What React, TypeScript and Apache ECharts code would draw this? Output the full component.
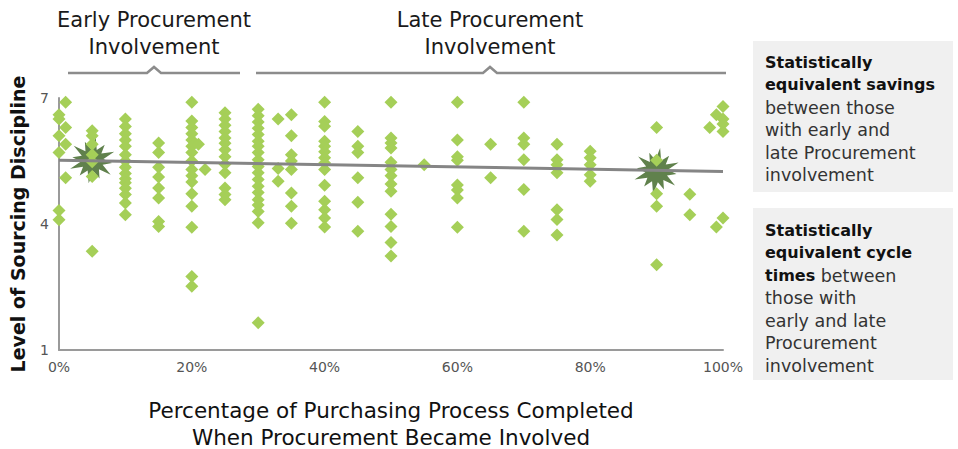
import React, { useEffect, useRef } from "react";
import * as echarts from "echarts";

// Percentage of purchasing process completed (x) for each column of responses
const pctColumns: number[] = [0, 1, 5, 10, 15, 20, 21, 22, 25, 30, 33, 35, 40, 45, 50, 55, 60, 65, 70, 75, 80, 90, 95, 98, 99, 100];

// Level of sourcing discipline values for each column above
const levelColumns: number[][] = [
  [6.6, 6.5, 6.1, 5.7, 4.32, 4.1],
  [6.9, 6.3, 5.9, 5.1],
  [6.22, 6.1, 5.9, 5.65, 5.48, 5.13, 3.35],
  [6.5, 6.32, 6.15, 6.0, 5.85, 5.65, 5.5, 5.35, 5.2, 5.08, 4.98, 4.85, 4.7, 4.5, 4.22],
  [5.93, 5.7, 5.35, 5.12, 4.86, 4.62, 4.06, 3.94],
  [6.9, 6.45, 6.3, 6.15, 6.0, 5.85, 5.7, 5.5, 5.3, 5.15, 5.0, 4.72, 4.42, 3.92, 2.75, 2.52],
  [5.9],
  [5.3],
  [6.65, 6.5, 6.35, 6.2, 6.05, 5.92, 5.77, 5.6, 5.42, 5.22, 4.86, 4.7, 4.58],
  [6.73, 6.58, 6.43, 6.28, 6.13, 5.97, 5.85, 5.7, 5.53, 5.37, 5.22, 5.06, 4.9, 4.75, 4.58, 4.45, 4.3, 4.03, 1.65],
  [6.5, 5.32, 5.02],
  [6.6, 6.1, 5.65, 5.5, 5.3, 4.74, 4.42, 4.02],
  [6.9, 6.44, 6.33, 5.97, 5.85, 5.72, 5.58, 5.45, 5.3, 4.92, 4.54, 4.34, 4.14, 3.93],
  [6.2, 5.85, 5.7, 5.1, 4.52, 3.83],
  [6.9, 6.05, 5.93, 5.81, 5.47, 5.3, 5.15, 4.95, 4.78, 4.23, 3.94, 3.56, 3.24],
  [5.41],
  [6.9, 6.0, 5.6, 5.52, 4.93, 4.81, 4.62, 3.92],
  [5.9, 5.1],
  [6.9, 6.05, 5.9, 5.53, 4.82, 3.83],
  [5.9, 5.53, 5.41, 5.22, 4.34, 4.11, 3.74],
  [5.73, 5.58, 5.41, 5.17, 5.02],
  [6.3, 5.52, 4.72, 4.42, 3.03],
  [4.71, 4.22],
  [6.3],
  [6.6, 3.93],
  [6.8, 6.5, 6.38, 6.2, 4.14],
];

// Group averages (starbursts): early and late involvement
const avgX: number[] = [5, 90];
const avgLevel: number[] = [5.52, 5.26];

// Trend line end points
const trendX: number[] = [0, 100];
const trendLevel: number[] = [5.52, 5.25];

// Axis ticks
const yTicks: number[] = [1, 4, 7];
const xTickStep = 20;

const FONT = "'DejaVu Sans', 'Open Sans', sans-serif";

function starPath(points: number, outer: number, inner: number): string {
  const parts: string[] = [];
  for (let i = 0; i < points * 2; i++) {
    const r = i % 2 === 0 ? outer * (i % 4 === 0 ? 1 : 0.85) : inner;
    const a = (Math.PI * i) / points - Math.PI / 2 + 0.15;
    const x = 50 + r * Math.cos(a);
    const y = 50 + r * Math.sin(a);
    parts.push((i === 0 ? "M" : "L") + x.toFixed(2) + " " + y.toFixed(2));
  }
  return "path://" + parts.join(" ") + " Z";
}

export default function App() {
  const ref = useRef<HTMLDivElement>(null);

  useEffect(() => {
    if (!ref.current) return;
    const chart = echarts.init(ref.current, undefined, { renderer: "svg" });

    const scatterData: number[][] = [];
    pctColumns.forEach((x, i) => {
      levelColumns[i].forEach((y) => scatterData.push([x, y]));
    });
    const avgData = avgX.map((x, i) => [x, avgLevel[i]]);
    const trendData = trendX.map((x, i) => [x, trendLevel[i]]);

    const bracket = (x1: number, x2: number, cx: number, y: number) => ({
      type: "polyline",
      shape: {
        points: [
          [x1, y],
          [cx - 7, y],
          [cx, y - 6],
          [cx + 7, y],
          [x2, y],
        ],
      },
      style: { stroke: "#8c8c8c", lineWidth: 2.5, fill: null },
    });

    const richStyles = {
      b: { fontFamily: FONT, fontSize: 16, fontWeight: "bold", fill: "#111", lineHeight: 22.6 },
      n: { fontFamily: FONT, fontSize: 17.5, fill: "#333", lineHeight: 22.6 },
    };

    const header = (text: string, cx: number) => ({
      type: "text",
      x: cx,
      y: 6,
      style: {
        text,
        align: "center",
        verticalAlign: "top",
        fontFamily: FONT,
        fontSize: 21,
        lineHeight: 27,
        fill: "#1a1a1a",
      },
    });

    chart.setOption({
      animation: false,
      backgroundColor: "#ffffff",
      grid: {
        left: 59,
        right: 235,
        top: 98,
        bottom: 99,
        containLabel: false,
        outerBoundsMode: "none",
      },
      xAxis: {
        type: "value",
        min: 0,
        max: 100,
        interval: xTickStep,
        axisLine: { show: true, lineStyle: { color: "#9a9a9a", width: 2 } },
        axisTick: { show: false },
        splitLine: { show: false },
        axisLabel: {
          formatter: "{value}%",
          color: "#555",
          fontFamily: FONT,
          fontSize: 14,
          margin: 10,
        },
        name: "Percentage of Purchasing Process Completed\nWhen Procurement Became Involved",
        nameLocation: "middle",
        nameGap: 47,
        nameTextStyle: { color: "#111", fontFamily: FONT, fontSize: 21.5, lineHeight: 27 },
      },
      yAxis: {
        type: "value",
        min: yTicks[0],
        max: yTicks[yTicks.length - 1],
        interval: yTicks[1] - yTicks[0],
        axisLine: { show: true, lineStyle: { color: "#9a9a9a", width: 2 } },
        axisTick: { show: false },
        splitLine: { show: false },
        axisLabel: { color: "#555", fontFamily: FONT, fontSize: 14, margin: 10 },
        name: "Level of Sourcing Discipline",
        nameLocation: "middle",
        nameGap: 32,
        nameTextStyle: { color: "#111", fontFamily: FONT, fontSize: 19, fontWeight: "bold" },
      },
      series: [
        {
          type: "scatter",
          data: avgData,
          symbol: starPath(12, 50, 24),
          symbolSize: [44, 46],
          itemStyle: { color: "#38611f" },
          z: 1,
        },
        {
          type: "scatter",
          data: scatterData,
          symbol: "diamond",
          symbolSize: 13,
          itemStyle: { color: "#a5cf58", opacity: 1 },
          z: 2,
        },
        {
          type: "line",
          data: trendData,
          symbol: "none",
          lineStyle: { color: "#858585", width: 3 },
          z: 3,
        },
      ],
      graphic: [
        header("Early Procurement\nInvolvement", 154),
        header("Late Procurement\nInvolvement", 490),
        bracket(68, 240, 154, 73),
        bracket(256, 726, 490, 73),
        { type: "rect", shape: { x: 753, y: 41, width: 200, height: 151 }, style: { fill: "#f0f0f0" } },
        { type: "rect", shape: { x: 753, y: 208, width: 200, height: 172 }, style: { fill: "#f0f0f0" } },
        {
          type: "text",
          x: 765,
          y: 51,
          style: {
            text:
              "{b|Statistically}\n{b|equivalent savings}\n{n|between those}\n{n|with early and}\n{n|late Procurement}\n{n|involvement}",
            rich: richStyles,
          },
        },
        {
          type: "text",
          x: 765,
          y: 219,
          style: {
            text:
              "{b|Statistically}\n{b|equivalent cycle}\n{b|times}{n| between}\n{n|those with}\n{n|early and late}\n{n|Procurement}\n{n|involvement}",
            rich: richStyles,
          },
        },
      ],
    });

    return () => chart.dispose();
  }, []);

  return (
    <div
      ref={ref}
      style={{ position: "fixed", left: 0, top: 0, width: 958, height: 449, background: "#fff" }}
    />
  );
}
